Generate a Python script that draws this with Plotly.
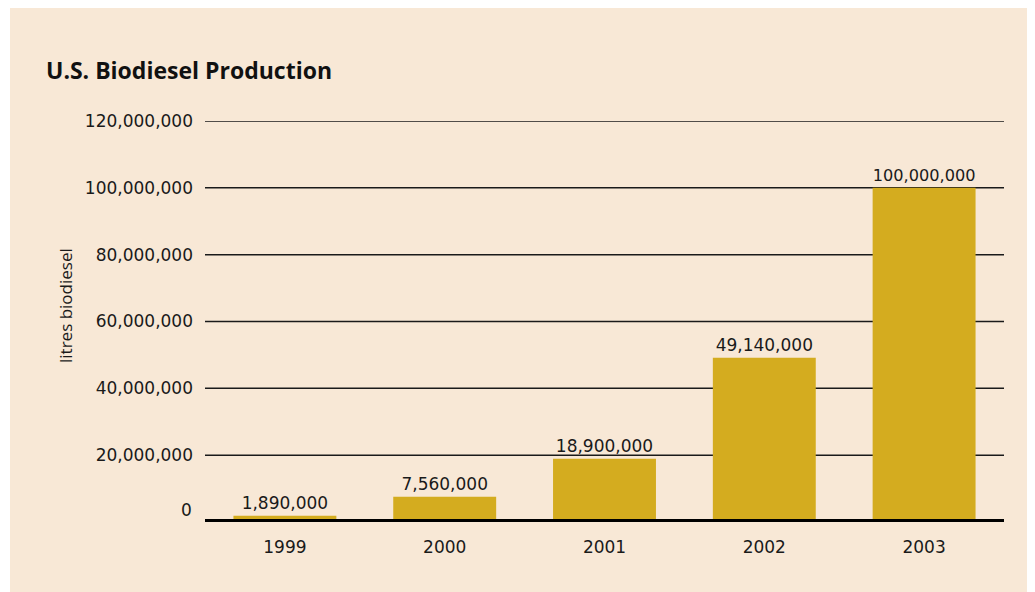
import plotly.graph_objects as go

years = ["1999", "2000", "2001", "2002", "2003"]
production = [1890000, 7560000, 18900000, 49140000, 100000000]
tick_vals = [0, 20000000, 40000000, 60000000, 80000000, 100000000, 120000000]
tick_text = ["0", "20,000,000", "40,000,000", "60,000,000", "80,000,000", "100,000,000", "120,000,000"]

BEIGE = "#F8E8D6"
BAR = "#D4AC1F"
TXT = "#1a1a1a"
FONT = "DejaVu Sans"

OFF = 8  # page body margin
W, H = 1035, 592
L = 205 - OFF
T = 121 - OFF
B = H - (522 - OFF)
R = W - (1004 - OFF)
pw, ph = W - L - R, H - T - B

def px_x(p):
    return (p - OFF - L) / pw

def px_y(p):
    return (H - B - (p - OFF)) / ph

fig = go.Figure()
fig.add_trace(go.Bar(
    x=years, y=production,
    marker=dict(color=BAR, line=dict(width=0)),
    text=[f"{v:,}" for v in production],
    textposition="outside",
    textfont=dict(family=FONT, size=17, color=TXT),
    cliponaxis=False,
))

# zero label is drawn raised above the thick baseline, as in the original
shown_text = [""] + tick_text[1:]

fig.update_layout(
    width=W, height=H,
    margin=dict(l=L, r=R, t=T, b=B),
    paper_bgcolor=BEIGE,
    plot_bgcolor="rgba(0,0,0,0)",
    bargap=0.356,
    showlegend=False,
    font=dict(family=FONT, color=TXT),
    xaxis=dict(
        showgrid=False, showline=False, zeroline=False,
        tickfont=dict(family=FONT, size=17, color=TXT),
        ticks="", ticklabelstandoff=13,
    ),
    yaxis=dict(
        range=[0, 120000000],
        tickvals=tick_vals, ticktext=shown_text,
        tickfont=dict(family=FONT, size=17, color=TXT),
        showgrid=False, zeroline=False, showline=False, ticks="",
        ticklabelstandoff=11,
    ),
    shapes=[
        dict(type="rect", xref="paper", yref="paper",
             x0=px_x(0), x1=px_x(10), y0=px_y(620), y1=px_y(0),
             fillcolor="white", line=dict(width=0), layer="below"),
        dict(type="rect", xref="paper", yref="paper",
             x0=px_x(0), x1=px_x(1060), y0=px_y(7), y1=px_y(0),
             fillcolor="white", line=dict(width=0), layer="below"),
    ] + [
        dict(type="line", xref="paper", yref="y",
             x0=0, x1=1, y0=v, y1=v,
             line=dict(color="#1a1a1a", width=1.5), layer="below")
        for v in tick_vals[1:]
    ] + [
        dict(type="line", xref="paper", yref="y",
             x0=0, x1=1, y0=0, y1=0,
             line=dict(color="black", width=6), layer="above"),
    ],
    annotations=[
        dict(text="<b>U.S. Biodiesel Production</b>", xref="paper", yref="paper",
             x=px_x(44), y=px_y(70), xanchor="left", yanchor="middle",
             showarrow=False, font=dict(family="Open Sans", size=23, color="#111")),
        dict(text="litres biodiesel", xref="paper", yref="paper",
             x=px_x(65), y=px_y(306), xanchor="center", yanchor="middle",
             textangle=-90, showarrow=False,
             font=dict(family="Open Sans", size=17, color=TXT)),
        dict(text=tick_text[0], xref="paper", yref="paper",
             x=px_x(194), y=px_y(510), xanchor="right", yanchor="middle",
             showarrow=False, font=dict(family=FONT, size=17, color=TXT)),
    ],
)

fig.write_html("out.html")
